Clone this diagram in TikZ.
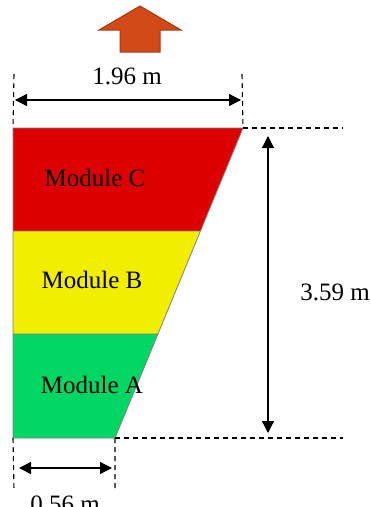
\documentclass[tikz,border=0pt]{standalone}
\usepackage{fontspec}
\setmainfont{Liberation Serif}
\usetikzlibrary{arrows.meta,positioning,calc}

\begin{document}
\begin{tikzpicture}[x=1pt,y=-1pt, every node/.style={font=\fontsize{25}{28}\selectfont,inner sep=0pt},
  dimline/.style={black,line width=1.1pt,dash pattern=on 5pt off 4pt},
  dimarrow/.style={black,line width=1.3pt,{Triangle[length=12pt,width=12pt]}-{Triangle[length=12pt,width=12pt]}}]
\definecolor{MODC}{HTML}{DD0000}
\definecolor{MODB}{HTML}{F2EE00}
\definecolor{MODA}{HTML}{00D663}
\definecolor{ORANGE}{HTML}{D14A18}
\definecolor{ORANGEDARK}{HTML}{A8380F}
\useasboundingbox (0,0) rectangle (371,507);
% trapezoid corners
\coordinate (TL) at (13,128);
\coordinate (TR) at (243,128);
\coordinate (BL) at (13,438);
\coordinate (BR) at (115,438);
\coordinate (CL) at (13,231);
\coordinate (CR) at ($(TR)!0.3323!(BR)$);
\coordinate (AL) at (13,334);
\coordinate (AR) at ($(TR)!0.6645!(BR)$);
\fill[MODC] (TL)--(TR)--(CR)--(CL)--cycle;
\fill[MODB] (CL)--(CR)--(AR)--(AL)--cycle;
\fill[MODA] (AL)--(AR)--(BR)--(BL)--cycle;
\draw[gray,line width=0.8pt] (TL)--(TR)--(BR)--(BL)--cycle (CL)--(CR) (AL)--(AR);
\node (modc) at (95,178) {Module C};
\node (modb) at (92,280) {Module B};
\node (moda) at (92,385) {Module A};
% direction arrow
\filldraw[fill=ORANGE,draw=ORANGEDARK,line width=1pt] (140,6)--(181,30)--(160,30)--(160,52)--(120,52)--(120,30)--(99,30)--cycle;
% top width
\coordinate (tl) at (14,74);
\coordinate (tr) at (242,74);
\draw[dimline] (tl)--(TL) (tr)--(TR);
\coordinate (tla) at (15,100);
\coordinate (tra) at (241,100);
\draw[dimarrow] (tla)--(tra);
\node (topw) at (127,76) {1.96 m};
% height
\coordinate (hr1) at (343,128);
\coordinate (hr2) at (343,438);
\draw[dimline] (TR)--(hr1) (BR)--(hr2);
\coordinate (ht) at (268,136);
\coordinate (hb) at (268,433);
\draw[dimarrow] (ht)--(hb);
\node (height) at (335,292) {3.59 m};
% bottom width
\coordinate (bl) at (14,490);
\coordinate (br) at (115,490);
\draw[dimline] (BL)--(bl) (BR)--(br);
\coordinate (bla) at (19,468);
\coordinate (bra) at (112,468);
\draw[dimarrow] (bla)--(bra);
\node (botw) at (65,504) {0.56 m};
\end{tikzpicture}
\end{document}
